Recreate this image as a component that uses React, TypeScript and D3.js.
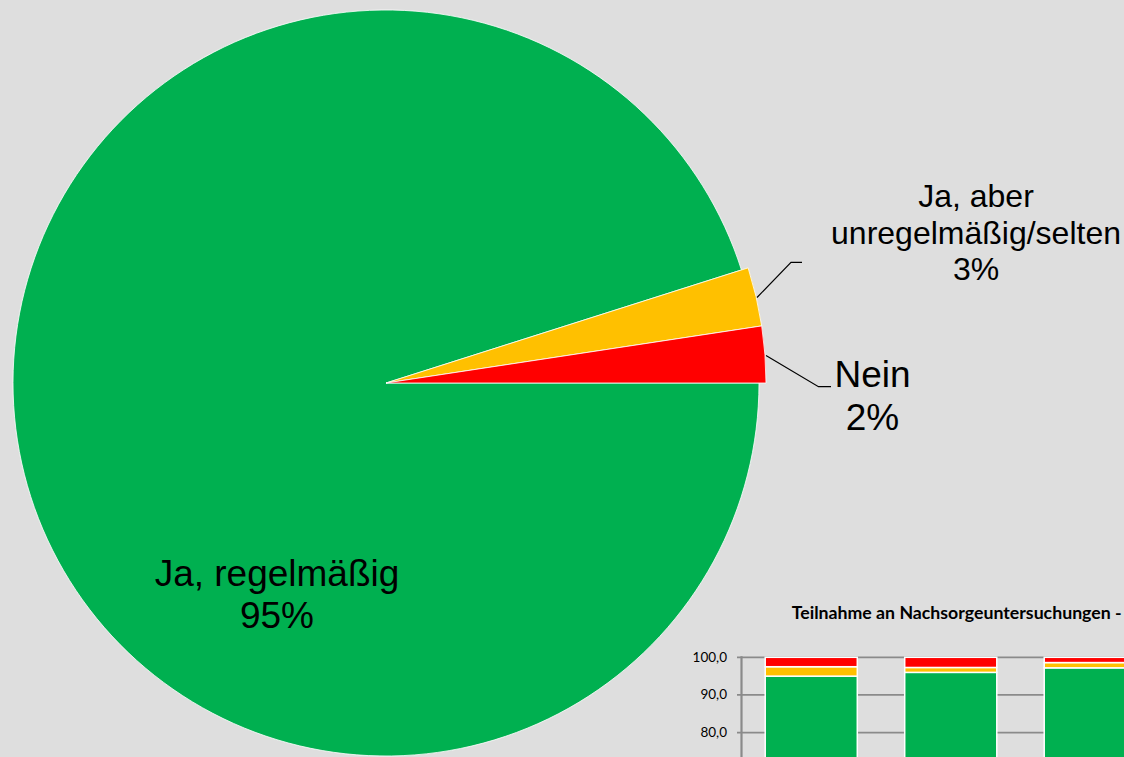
import React from "react";
import * as d3 from "d3";

const W = 1124;
const H = 757;

// Pie data
const pieLabels = ["Ja, regelmäßig", "Ja, aber unregelmäßig/selten", "Nein"];
const pieValues = [95.1, 2.5, 2.4];
const pieColors = ["#00B050", "#FFC000", "#FF0000"];

// Inset bar chart data
const barTitle = "Teilnahme an Nachsorgeuntersuchungen -";
const barCategories = ["c1", "c2", "c3"];
const barRegular = [95.0, 96.0, 97.2];
const barIrregular = [2.5, 1.3, 1.4];
const barNo = [2.5, 2.7, 1.4];
const barTicks = [0, 10, 20, 30, 40, 50, 60, 70, 80, 90, 100];

export default function App() {
  const cx = 386;
  const cy = 383;
  const pie = d3
    .pie<number>()
    .sort(null)
    .startAngle(Math.PI / 2)
    .endAngle(Math.PI / 2 + 2 * Math.PI);
  const arcs = pie(pieValues);
  const arcGen = (i: number) =>
    d3.arc<d3.PieArcDatum<number>>().innerRadius(0).outerRadius(i === 0 ? 373 : 380);

  // inset scales
  const y = d3.scaleLinear().domain([0, 100]).range([1034, 657.3]);
  const x = d3
    .scaleBand<string>()
    .domain(barCategories)
    .range([741.5, 741.5 + barCategories.length * 139.5])
    .paddingInner(0.34)
    .paddingOuter(0.17);

  const stacks = barCategories.map((c, i) => {
    const g = barRegular[i];
    const yl = barIrregular[i];
    const r = barNo[i];
    return [
      { y0: 0, y1: g, color: pieColors[0] },
      { y0: g, y1: g + yl, color: pieColors[1] },
      { y0: g + yl, y1: g + yl + r, color: pieColors[2] },
    ];
  });

  const pieFont = "'Liberation Sans', Arial, sans-serif";
  const insetFont = "Lato, 'Open Sans', sans-serif";

  return (
    <svg
      width={W}
      height={H}
      style={{ position: "absolute", left: 0, top: 0, display: "block" }}
    >
      <rect x={0} y={0} width={W} height={H} fill="#DEDEDE" />
      <g transform={`translate(${cx},${cy})`}>
        {arcs.map((a, i) => (
          <path
            key={i}
            d={arcGen(i)(a) as string}
            fill={pieColors[i]}
            stroke="#ffffff"
            strokeWidth={0.8}
          />
        ))}
      </g>
      {/* leader lines */}
      <polyline points="757,297.5 791,262.3 802,262.3" fill="none" stroke="#000" strokeWidth={1.2} />
      <polyline points="766,355.5 818.5,386.7 831,386.7" fill="none" stroke="#000" strokeWidth={1.2} />
      {/* pie labels */}
      <text fontFamily={pieFont} fontSize={37} fill="#000" textAnchor="middle">
        <tspan x={277} y={586}>{pieLabels[0]}</tspan>
        <tspan x={277} y={628}>{`${Math.round(pieValues[0])}%`}</tspan>
      </text>
      <text fontFamily={pieFont} fontSize={32} fill="#000" textAnchor="middle">
        <tspan x={976} y={207}>Ja, aber</tspan>
        <tspan x={976} y={243.5}>unregelmäßig/selten</tspan>
        <tspan x={976} y={280}>{`${Math.round(pieValues[1])}%`}</tspan>
      </text>
      <text fontFamily={pieFont} fontSize={37} fill="#000" textAnchor="middle">
        <tspan x={872.5} y={387}>{pieLabels[2]}</tspan>
        <tspan x={872.5} y={430}>{`${Math.round(pieValues[2])}%`}</tspan>
      </text>

      {/* inset bar chart */}
      <text
        x={791.7}
        y={618.5}
        fontFamily={insetFont}
        fontWeight={700}
        fontSize={16.5}
        fill="#000"
        textLength={330}
        lengthAdjust="spacingAndGlyphs"
      >
        {barTitle}
      </text>
      {barTicks.map((t) => (
        <g key={t}>
          <line x1={737} x2={W + 10} y1={y(t)} y2={y(t)} stroke="#8A8A8A" strokeWidth={1.8} />
          {y(t) + 4.5 < H - 2 && (
            <text
              x={727}
              y={y(t) + 4.5}
              textAnchor="end"
              fontFamily={insetFont}
              fontSize={13.5}
              fill="#000"
            >
              {d3.format(".1f")(t).replace(".", ",")}
            </text>
          )}
        </g>
      ))}
      <line x1={741.5} x2={741.5} y1={y(100) - 1} y2={y(0)} stroke="#8A8A8A" strokeWidth={2.2} />
      {stacks.map((s, i) => (
        <g key={barCategories[i]}>
          {s.map((seg, j) => (
            <rect
              key={j}
              x={x(barCategories[i])}
              width={x.bandwidth()}
              y={y(seg.y1)}
              height={y(seg.y0) - y(seg.y1)}
              fill={seg.color}
              stroke="#ffffff"
              strokeWidth={1.5}
            />
          ))}
        </g>
      ))}
    </svg>
  );
}
